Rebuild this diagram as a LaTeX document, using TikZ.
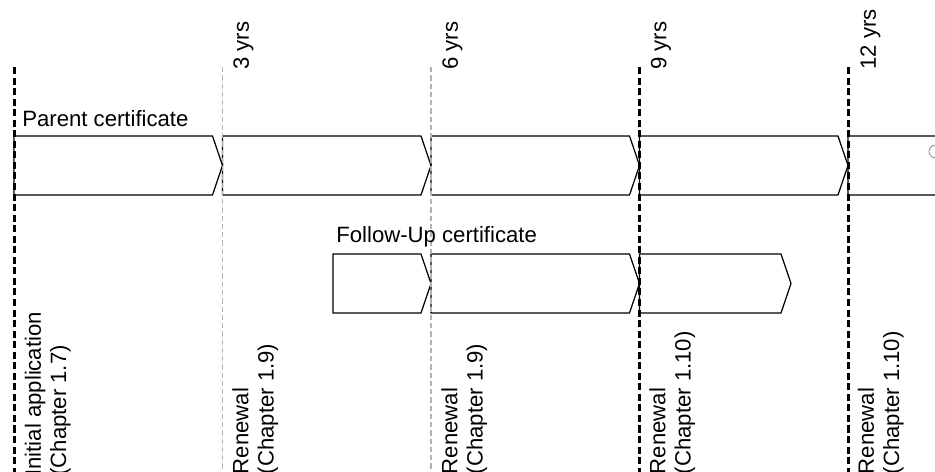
\documentclass[tikz,border=0pt]{standalone}
\usepackage{fontspec}
\setmainfont{Liberation Sans}

\begin{document}
\begin{tikzpicture}[
  font=\fontsize{12.6}{14.4}\selectfont,
  milestone/.style={line width=1.7pt,dash pattern=on 4pt off 2pt},
  yearmark/.style={draw=gray!60,line width=0.6pt,dash pattern=on 3pt off 1.7pt},
  cert/.style={draw,line width=0.7pt},
  vlabel/.style={rotate=90,anchor=north west,inner sep=0pt,align=left}
]
\path[use as bounding box] (0,0) rectangle (18.7,9.44);
\clip (0,0) rectangle (18.7,9.44);

% parent certificate, one block per 3 years
\foreach \i in {0,...,4}
  \draw[cert] ({0.28+4.17*\i},6.72) -- ({4.25+4.17*\i},6.72) -- ({4.45+4.17*\i},6.13)
    -- ({4.25+4.17*\i},5.54) -- ({0.28+4.17*\i},5.54) -- cycle;
\draw[gray] (18.71,6.54) arc[start angle=90,end angle=270,radius=0.13];

% follow-up certificate
\draw[cert] (6.66,4.36) -- (8.42,4.36) -- (8.62,3.77) -- (8.42,3.18) -- (6.66,3.18) -- cycle;
\draw[cert] (8.62,4.36) -- (12.59,4.36) -- (12.79,3.77) -- (12.59,3.18) -- (8.62,3.18) -- cycle;
\draw[cert] (12.79,4.36) -- (15.62,4.36) -- (15.82,3.77) -- (15.62,3.18) -- (12.79,3.18) -- cycle;

% time marks
\draw[milestone] (0.29,8.1) -- (0.29,0);
\draw[yearmark] (4.45,8.1) -- (4.45,0);
\draw[yearmark] (8.62,8.1) -- (8.62,0);
\draw[milestone] (12.79,8.1) -- (12.79,0);
\draw[milestone] (16.96,8.1) -- (16.96,0);

\node[anchor=base west,inner sep=0pt] (parent) at (0.44,6.9) {Parent certificate};
\node[anchor=base west,inner sep=0pt] (followup) at (6.72,4.58) {Follow-Up certificate};

\node[vlabel] (y3) at (4.66,8.04) {3 yrs};
\node[vlabel] (y6) at (8.84,8.04) {6 yrs};
\node[vlabel] (y9) at (13.01,8.04) {9 yrs};
\node[vlabel] (y12) at (17.2,8.04) {12 yrs};

\node[vlabel] (init) at (0.49,-0.08) {Initial application\\(Chapter 1.7)};
\node[vlabel] (ren3) at (4.64,-0.05) {Renewal\\(Chapter 1.9)};
\node[vlabel] (ren6) at (8.82,-0.05) {Renewal\\(Chapter 1.9)};
\node[vlabel] (ren9) at (12.98,-0.05) {Renewal\\(Chapter 1.10)};
\node[vlabel] (ren12) at (17.15,-0.05) {Renewal\\(Chapter 1.10)};
\end{tikzpicture}
\end{document}
